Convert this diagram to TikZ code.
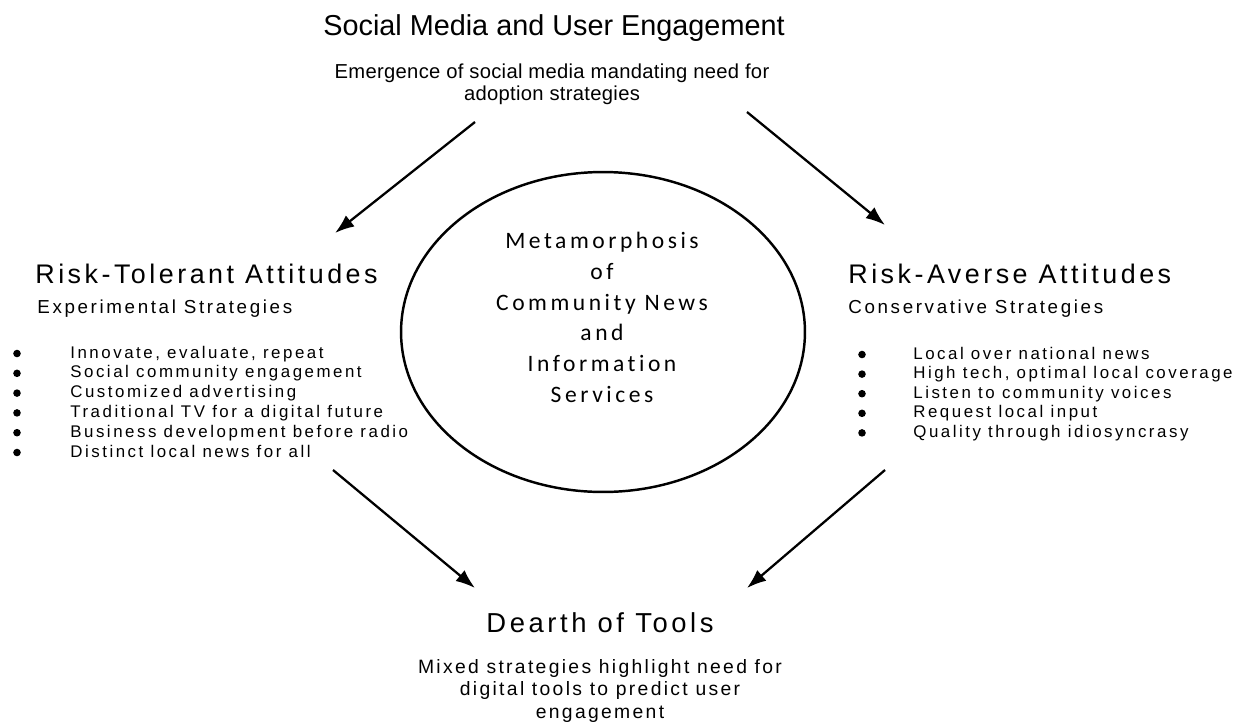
\documentclass[tikz,border=0pt]{standalone}
\usepackage{fontspec}
\setmainfont{Liberation Sans}
\newfontfamily\hubfont{Carlito}[Ligatures=NoCommon]
\usetikzlibrary{positioning,arrows.meta,shapes.geometric}

\begin{document}
\begin{tikzpicture}[x=0.02cm, y=-0.02cm, >={Latex[length=11pt,width=8pt]},
  every node/.style={inner sep=0pt},
  head/.style={anchor=base west, font=\fontsize{15.3}{18}\selectfont\addfontfeature{LetterSpace=13}},
  strat/.style={anchor=base west, font=\fontsize{10.7}{12.8}\selectfont\addfontfeature{LetterSpace=14}},
  item/.style={anchor=base west, font=\fontsize{9.6}{11.5}\selectfont\addfontfeature{LetterSpace=15}},
  dot/.style={circle, fill, minimum size=4.3pt},
  flow/.style={->, line width=1.3pt}]
  \useasboundingbox (0,0) rectangle (1244,721);

  \node[anchor=base, font=\fontsize{16.4}{19}\selectfont] (sm) at (554,35) {Social Media and User Engagement};
  \node[anchor=north, align=center, font=\fontsize{11.5}{12.3}\selectfont\addfontfeature{LetterSpace=1.5}] (sm-sub) at (552,64)
    {Emergence of social media mandating need for\\adoption strategies};

  \node[draw, ellipse, line width=1.4pt, minimum width=8.08cm, minimum height=6.4cm] (hub) at (603,332) {};
  \node[anchor=north, align=center, font=\hubfont\fontsize{13.4}{17.5}\selectfont\addfontfeature{LetterSpace=15}] (hub-txt) at (602,232)
    {Metamorphosis\\of\\Community News\\and\\Information\\Services};

  \node[head] (tol) at (35,283) {Risk-Tolerant Attitudes};
  \node[strat] (tol-sub) at (37,313) {Experimental Strategies};
  \foreach \txt [count=\i] in {{Innovate, evaluate, repeat}, Social community engagement, Customized advertising,
      Traditional TV for a digital future, Business development before radio, Distinct local news for all} {
    \node[item] (tol-\i) at (70,358+19.8*\i-19.8) {\txt};
    \node[dot] (tol-dot-\i) at (17,353.5+19.8*\i-19.8) {};
  }

  \node[head] (ave) at (848,283) {Risk-Averse Attitudes};
  \node[strat] (ave-sub) at (848,313) {Conservative Strategies};
  \foreach \txt [count=\i] in {Local over national news, {High tech, optimal local coverage}, Listen to community voices,
      Request local input, Quality through idiosyncrasy} {
    \node[item] (ave-\i) at (913,359+19.6*\i-19.6) {\txt};
    \node[dot] (ave-dot-\i) at (862,354.5+19.6*\i-19.6) {};
  }

  \node[anchor=base, font=\fontsize{15.6}{18}\selectfont\addfontfeature{LetterSpace=13}] (tools) at (600,632) {Dearth of Tools};
  \node[anchor=north, align=center, font=\fontsize{11}{12.8}\selectfont\addfontfeature{LetterSpace=12}] (tools-sub) at (600,659)
    {Mixed strategies highlight need for\\digital tools to predict user\\engagement};

  \coordinate (sm-l) at (475,122);
  \coordinate (tol-in) at (335,233);
  \coordinate (sm-r) at (747,112);
  \coordinate (ave-in) at (885,225);
  \coordinate (tol-out) at (333,470);
  \coordinate (tools-l) at (475,588);
  \coordinate (ave-out) at (885,470);
  \coordinate (tools-r) at (747,588);
  \draw[flow] (sm-l) -- (tol-in);
  \draw[flow] (sm-r) -- (ave-in);
  \draw[flow] (tol-out) -- (tools-l);
  \draw[flow] (ave-out) -- (tools-r);
\end{tikzpicture}
\end{document}
